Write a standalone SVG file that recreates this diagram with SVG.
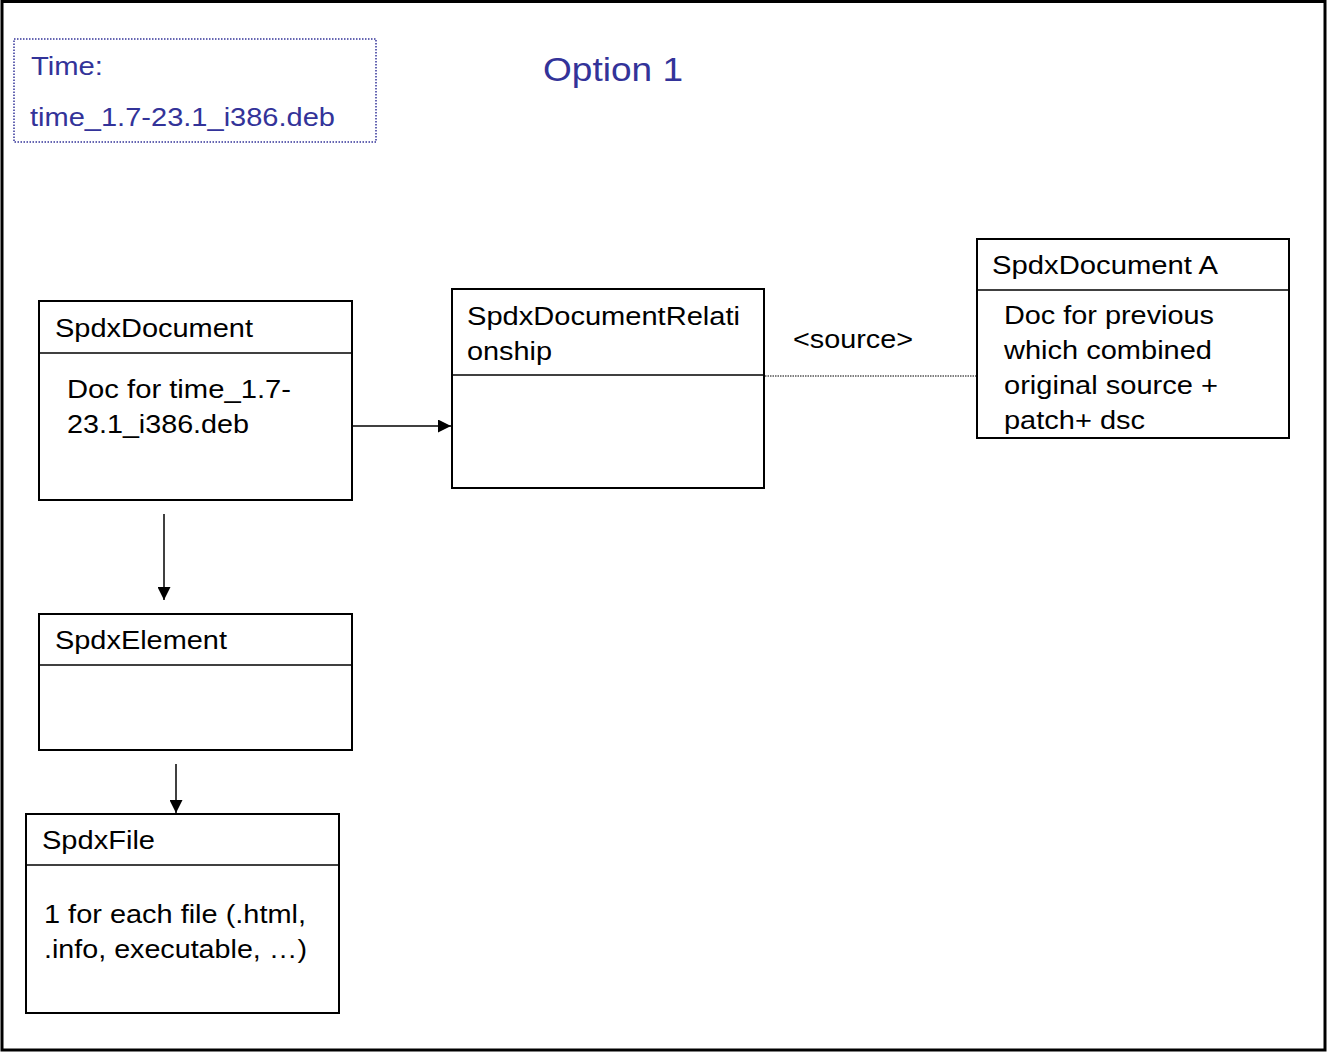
<svg xmlns="http://www.w3.org/2000/svg" width="1328" height="1052" viewBox="0 0 1328 1052">
<defs>
<style>
.box{fill:#fff;stroke:#000;stroke-width:2}
.div{stroke:#000;stroke-width:1.5}
.t{font-family:"Liberation Sans",Arial,sans-serif;font-size:26px;fill:#000}
.b{font-family:"Liberation Sans",Arial,sans-serif;font-size:26px;fill:#333399}
.ln{stroke:#000;stroke-width:1.5;fill:none}
</style>
<marker id="ah" viewBox="0 0 10 10" refX="10" refY="5" markerWidth="13" markerHeight="13" markerUnits="userSpaceOnUse" orient="auto">
<path d="M0,0 L10,5 L0,10 z" fill="#000"/>
</marker>
</defs>
<rect x="0" y="0" width="1328" height="1052" fill="#fff"/>
<rect x="2" y="1.5" width="1323" height="1048.5" fill="none" stroke="#000" stroke-width="3"/>
<g id="time-note">
<rect x="14" y="39" width="362" height="103" fill="none" stroke="#333399" stroke-width="1.5" stroke-dasharray="1.5,1.5"/>
<text class="b" x="31" y="75" textLength="72" lengthAdjust="spacingAndGlyphs">Time:</text>
<text class="b" x="30" y="126" textLength="305" lengthAdjust="spacingAndGlyphs">time_1.7-23.1_i386.deb</text>
</g>
<g id="title">
<text x="543" y="81" font-family="Liberation Sans,Arial,sans-serif" font-size="34" fill="#333399" textLength="140" lengthAdjust="spacingAndGlyphs">Option 1</text>
</g>
<g id="connectors">
<line class="ln" x1="353" y1="426" x2="451" y2="426" marker-end="url(#ah)"/>
<line x1="765" y1="376" x2="976" y2="376" stroke="#000" stroke-width="1" stroke-dasharray="1.5,1"/>
<line class="ln" x1="164" y1="514" x2="164" y2="600" marker-end="url(#ah)"/>
<line class="ln" x1="176" y1="764" x2="176" y2="813" marker-end="url(#ah)"/>
<text class="t" x="793" y="348" textLength="120" lengthAdjust="spacingAndGlyphs">&lt;source&gt;</text>
</g>
<g id="spdx-document">
<rect class="box" x="39" y="301" width="313" height="199"/>
<line class="div" x1="39" y1="353" x2="352" y2="353"/>
<text class="t" x="55" y="337" textLength="198" lengthAdjust="spacingAndGlyphs">SpdxDocument</text>
<text class="t" x="67" y="398" textLength="224" lengthAdjust="spacingAndGlyphs">Doc for time_1.7-</text>
<text class="t" x="67" y="433" textLength="182" lengthAdjust="spacingAndGlyphs">23.1_i386.deb</text>
</g>
<g id="spdx-document-relationship">
<rect class="box" x="452" y="289" width="312" height="199"/>
<line class="div" x1="452" y1="375" x2="764" y2="375"/>
<text class="t" x="467" y="325" textLength="273" lengthAdjust="spacingAndGlyphs">SpdxDocumentRelati</text>
<text class="t" x="467" y="360" textLength="85" lengthAdjust="spacingAndGlyphs">onship</text>
</g>
<g id="spdx-document-a">
<rect class="box" x="977" y="239" width="312" height="199"/>
<line class="div" x1="977" y1="290" x2="1289" y2="290"/>
<text class="t" x="992" y="274" textLength="226" lengthAdjust="spacingAndGlyphs">SpdxDocument A</text>
<text class="t" x="1004" y="324" textLength="210" lengthAdjust="spacingAndGlyphs">Doc for previous</text>
<text class="t" x="1004" y="359" textLength="208" lengthAdjust="spacingAndGlyphs">which combined</text>
<text class="t" x="1004" y="394" textLength="214" lengthAdjust="spacingAndGlyphs">original source +</text>
<text class="t" x="1004" y="429" textLength="141" lengthAdjust="spacingAndGlyphs">patch+ dsc</text>
</g>
<g id="spdx-element">
<rect class="box" x="39" y="614" width="313" height="136"/>
<line class="div" x1="39" y1="665" x2="352" y2="665"/>
<text class="t" x="55" y="649" textLength="172" lengthAdjust="spacingAndGlyphs">SpdxElement</text>
</g>
<g id="spdx-file">
<rect class="box" x="26" y="814" width="313" height="199"/>
<line class="div" x1="26" y1="865" x2="339" y2="865"/>
<text class="t" x="42" y="849" textLength="113" lengthAdjust="spacingAndGlyphs">SpdxFile</text>
<text class="t" x="44" y="923" textLength="262" lengthAdjust="spacingAndGlyphs">1 for each file (.html,</text>
<text class="t" x="44" y="958" textLength="263" lengthAdjust="spacingAndGlyphs">.info, executable, …)</text>
</g>
</svg>
